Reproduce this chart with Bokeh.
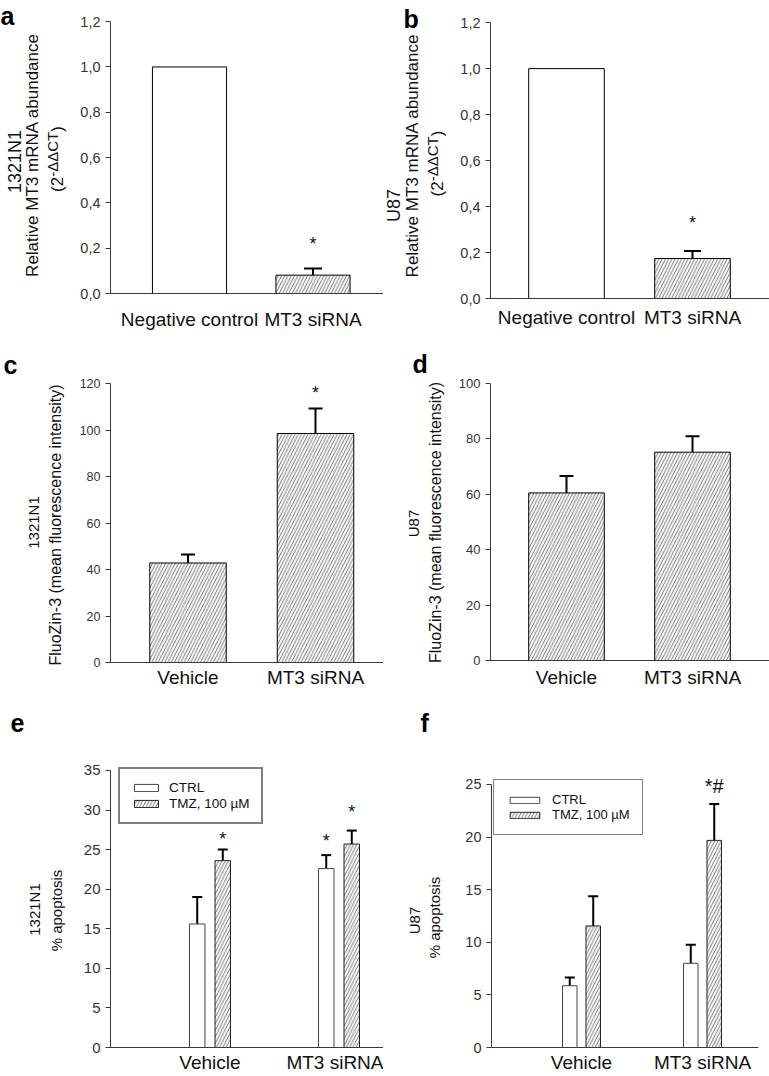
import math
from bokeh.plotting import figure
from bokeh.models import (ColumnDataSource, Range1d, FixedTicker, CustomJSTickFormatter,
                          Whisker, TeeHead, Label, Legend, LegendItem)
from bokeh.layouts import row, column
from bokeh.core.properties import value, field
from bokeh.embed import file_html
from bokeh.resources import INLINE

FONT = "Liberation Sans"

# ---------------- data ----------------
cats_mrna = ["Negative control", "MT3 siRNA"]
mrna_1321n1 = [1.0, 0.081]
mrna_1321n1_err = [0.0, 0.029]
mrna_1321n1_sig = ["", "*"]
mrna_u87 = [1.0, 0.174]
mrna_u87_err = [0.0, 0.033]
mrna_u87_sig = ["", "*"]

cats_treat = ["Vehicle", "MT3 siRNA"]
fluozin_1321n1 = [42.8, 98.5]
fluozin_1321n1_err = [3.7, 10.7]
fluozin_1321n1_sig = ["", "*"]
fluozin_u87 = [60.5, 75.2]
fluozin_u87_err = [6.1, 5.8]
fluozin_u87_sig = ["", ""]

series_apo = ["CTRL", "TMZ, 100 \u00b5M"]
apo_1321n1_ctrl = [15.6, 22.6]
apo_1321n1_ctrl_err = [3.4, 1.7]
apo_1321n1_ctrl_sig = ["", "*"]
apo_1321n1_tmz = [23.6, 25.7]
apo_1321n1_tmz_err = [1.4, 1.7]
apo_1321n1_tmz_sig = ["*", "*"]
apo_u87_ctrl = [5.87, 8.0]
apo_u87_ctrl_err = [0.78, 1.76]
apo_u87_ctrl_sig = ["", ""]
apo_u87_tmz = [11.55, 19.68]
apo_u87_tmz_err = [2.82, 3.45]
apo_u87_tmz_sig = ["", "*#"]

yticks_mrna = [0, 0.2, 0.4, 0.6, 0.8, 1.0, 1.2]
yticks_c = [0, 20, 40, 60, 80, 100, 120]
yticks_d = [0, 20, 40, 60, 80, 100]
yticks_e = [0, 5, 10, 15, 20, 25, 30, 35]
yticks_f = [0, 5, 10, 15, 20, 25]


# ---------------- layout helpers ----------------
def base_fig(W, H, **kw):
    p = figure(width=W, height=H, toolbar_location=None, output_backend="svg",
               title=None, tools="", frame_align=False, **kw)
    p.outline_line_color = None
    p.grid.grid_line_color = None
    p.background_fill_color = "white"
    p.border_fill_color = "white"
    return p


def make_fig(g, xr):
    return base_fig(g["W"], g["H"], x_range=Range1d(*xr), y_range=Range1d(0, g["yend"]),
                    min_border_left=g["FL"] - g["page_left"],
                    min_border_right=g["page_left"] + g["W"] - g["FR"],
                    min_border_top=g["FT"], min_border_bottom=g["H"] - g["FB"])


def label_fig(page_left, W, H):
    p = base_fig(W, H, x_range=Range1d(0, W), y_range=Range1d(0, H),
                 min_border_left=0, min_border_right=0, min_border_top=0,
                 min_border_bottom=0, x_axis_location=None, y_axis_location=None)
    p._page_left = page_left
    return p


def style_axes(p, cats, yticks, ysize, xstand, comma=False):
    xa = p.xaxis[0]
    xa.ticker = FixedTicker(ticks=list(range(len(cats))))
    xa.formatter = CustomJSTickFormatter(args=dict(cats=cats), code="return cats[index];")
    xa.major_tick_out = 0
    xa.major_tick_in = 0
    xa.minor_tick_line_color = None
    xa.major_tick_line_color = None
    xa.axis_line_color = "#3a3a3a"
    xa.major_label_text_font = FONT
    xa.major_label_text_font_size = "19px"
    xa.major_label_text_color = "#111111"
    xa.major_label_standoff = xstand
    ya = p.yaxis[0]
    ya.ticker = FixedTicker(ticks=yticks)
    ya.bounds = (yticks[0], yticks[-1])
    if comma:
        ya.formatter = CustomJSTickFormatter(code="return tick.toFixed(1).replace('.', ',');")
    ya.major_tick_out = 5
    ya.major_tick_in = 0
    ya.minor_tick_line_color = None
    ya.major_tick_line_color = "#3a3a3a"
    ya.axis_line_color = "#3a3a3a"
    ya.major_label_text_font = FONT
    ya.major_label_text_font_size = f"{ysize}px"
    ya.major_label_text_color = "#333333"
    ya.major_label_standoff = 5


def put(lf, RO, text, rx, ry, size, angle=0.0, align="center", baseline="middle",
        style="normal", color="#111111"):
    x = max(rx, lf._page_left) - lf._page_left
    y = lf.height - (ry - RO)
    lf.add_layout(Label(x=x, y=y, x_units="screen", y_units="screen", text=text, angle=angle,
                        text_align=align, text_baseline=baseline, text_font=FONT,
                        text_font_size=f"{size}px", text_font_style=style, text_color=color))


def put_ddct(lf, RO, rx, ry_center):
    w_open = 0.889 * 17
    w_sup = 3.0 * 15
    L = w_open + w_sup + 0.333 * 17
    yc = lf.height - (ry_center - RO)
    y0 = yc - L / 2
    x = rx - lf._page_left
    for txt, xx, yy, sz in [("(2", x, y0, 17), ("-\u0394\u0394CT", x - 5, y0 + w_open, 15),
                            (")", x, y0 + w_open + w_sup, 17)]:
        lf.add_layout(Label(x=xx, y=yy, x_units="screen", y_units="screen", text=txt,
                            angle=math.pi / 2, text_align="left", text_baseline="middle",
                            text_font=FONT, text_font_size=f"{sz}px", text_color="#111111"))


def add_whiskers(p, xs, vals, errs, cap):
    b, lo, up = [], [], []
    for x, v, e in zip(xs, vals, errs):
        if e > 0:
            b.append(x); lo.append(v); up.append(v + e)
    src = ColumnDataSource(dict(base=b, lower=lo, upper=up))
    w = Whisker(source=src, base="base", lower="lower", upper="upper", line_width=2,
                line_color="black",
                upper_head=TeeHead(size=cap, line_width=2, line_color="black"),
                lower_head=None)
    p.add_layout(w)


def add_stars(p, xs, vals, errs, sigs, offs, size):
    sx, sy, st, so = [], [], [], []
    for x, v, e, s, o in zip(xs, vals, errs, sigs, offs):
        if s:
            sx.append(x); sy.append(v + e); st.append(s); so.append(o)
    if not sx:
        return
    src = ColumnDataSource(dict(x=sx, y=sy, text=st, off=so))
    p.text(x="x", y="y", text="text", source=src, text_align="center", text_baseline="middle",
           y_offset=field("off"), text_font=value(FONT), text_font_size=f"{size}px",
           text_color="#111111")


HATCH = dict(hatch_scale=6.5, hatch_weight=0.7, hatch_color="#333333")


def simple_panel(g, cats, vals, errs, sigs, hatches, xr, yticks, ysize, xstand,
                 bar_w, cap, star_offs, comma=False):
    p = make_fig(g, xr)
    xs = list(range(len(cats)))
    src = ColumnDataSource(dict(x=xs, top=vals, hatch=hatches))
    p.vbar(x="x", top="top", width=bar_w, bottom=0, source=src, fill_color="white",
           line_color="black", line_width=1, hatch_pattern=field("hatch"), **HATCH)
    add_whiskers(p, xs, vals, errs, cap)
    add_stars(p, xs, vals, errs, sigs, star_offs, 18)
    style_axes(p, cats, yticks, ysize, xstand, comma)
    return p


def grouped_panel(g, cats, ctrl, ctrl_err, ctrl_sig, tmz, tmz_err, tmz_sig, xr, yticks,
                  ysize, xstand, bar_w, off, star_offs, star_size, leg):
    p = make_fig(g, xr)
    xc = [i - off for i in range(len(cats))]
    xt = [i + off for i in range(len(cats))]
    r_c = p.vbar(x="x", top="top", width=bar_w, bottom=0,
                 source=ColumnDataSource(dict(x=xc, top=ctrl)),
                 fill_color="white", line_color="#444444", line_width=1)
    r_t = p.vbar(x="x", top="top", width=bar_w, bottom=0,
                 source=ColumnDataSource(dict(x=xt, top=tmz)),
                 fill_color="white", line_color="#222222", line_width=1,
                 hatch_pattern="/", **HATCH)
    add_whiskers(p, xc + xt, ctrl + tmz, ctrl_err + tmz_err, 10)
    add_stars(p, xc + xt, ctrl + tmz, ctrl_err + tmz_err, ctrl_sig + tmz_sig, star_offs,
              star_size)
    lx = leg["x_ref"] - g["FL"]
    ly = g["FB"] - (leg["bottom_ref"] - g["RO"])
    legend = Legend(items=[LegendItem(label=series_apo[0], renderers=[r_c]),
                           LegendItem(label=series_apo[1], renderers=[r_t])],
                    location=(lx, ly), border_line_color="black",
                    border_line_width=leg["bw"], background_fill_color="white",
                    background_fill_alpha=1.0, padding=leg["pad"], margin=0,
                    spacing=leg["spacing"], glyph_width=leg["gw"], glyph_height=leg["gh"],
                    label_height=leg["lh"], label_standoff=leg["ls"],
                    label_text_font=FONT, label_text_font_size=f"{leg['fs']}px",
                    label_text_color="#111111")
    p.add_layout(legend)
    style_axes(p, cats, yticks, ysize, xstand)
    return p


def geom(page_left, W, H, RO, FL, FR, top_ref, bot_ref, ytop, ext_px):
    FT = top_ref - RO
    FB = bot_ref - RO
    FTf = FT - ext_px
    ppu = (FB - FT) / ytop
    yend = (FB - FTf) / ppu
    if yend < ytop * 1.0005:
        yend = ytop * 1.0005
    return dict(page_left=page_left, W=W, H=H, RO=RO, FL=FL, FR=FR, FT=FTf, FB=FB,
                yend=yend)


# column geometry: label strip | plot | label strip | plot  (page has no margin)
LP1, LW1, PL1, PW1 = 0, 72, 72, 311
LP2, LW2, PL2, PW2 = 383, 71, 454, 315
H1, H2, H3 = 335, 365, 375
R1, R2, R3 = 0, 335, 700

ga = geom(PL1, PW1, H1, R1, 110, 383, 21, 293, 1.2, 0)
gb = geom(PL2, PW2, H1, R1, 490, 769, 22, 298, 1.2, 0)
gc = geom(PL1, PW1, H2, R2, 110, 383, 383, 662, 120, 8)
gd = geom(PL2, PW2, H2, R2, 490, 769, 383, 660, 100, 8)
ge = geom(PL1, PW1, H3, R3, 110, 383, 770, 1049, 35, 12)
gf = geom(PL2, PW2, H3, R3, 491, 758, 784, 1049, 25, 16)

# ---------------- panels ----------------
la = label_fig(LP1, LW1, H1)
pa = simple_panel(ga, cats_mrna, mrna_1321n1, mrna_1321n1_err, mrna_1321n1_sig, [" ", "/"],
                  (-(189 - 110) / 123.5, 1 + (383 - 312.5) / 123.5), yticks_mrna, 14.5, 15,
                  0.6, 18, [-24.5, -24.5], comma=True)
put(la, R1, "a", 0, 15, 25, align="left", baseline="alphabetic", style="bold", color="black")
put(la, R1, "1321N1", 14, 161, 18, angle=math.pi / 2)
put(la, R1, "Relative MT3 mRNA abundance", 31.5, 154.5, 17, angle=math.pi / 2)
put_ddct(la, R1, 57, 158.5)

lb = label_fig(LP2, LW2, H1)
pb = simple_panel(gb, cats_mrna, mrna_u87, mrna_u87_err, mrna_u87_sig, [" ", "/"],
                  (-(566 - 490) / 126, 1 + (769 - 692) / 126), yticks_mrna, 14.5, 8, 0.6, 17,
                  [-27.5, -27.5], comma=True)
put(lb, R1, "b", 403, 18, 25, align="left", baseline="alphabetic", style="bold", color="black")
put(lb, R1, "U87", 393, 205, 18, angle=math.pi / 2)
put(lb, R1, "Relative MT3 mRNA abundance", 412, 155, 17, angle=math.pi / 2)
put_ddct(lb, R1, 437, 163)

lc = label_fig(LP1, LW1, H2)
pc = simple_panel(gc, cats_treat, fluozin_1321n1, fluozin_1321n1_err, fluozin_1321n1_sig,
                  ["/", "/"], (-(187.5 - 110) / 127.5, 1 + (383 - 315) / 127.5), yticks_c,
                  12.5, 4, 0.6, 14, [-15.5, -15.5])
put(lc, R2, "c", 3, 364, 25, align="left", baseline="alphabetic", style="bold", color="black")
put(lc, R2, "1321N1", 33, 522, 15, angle=math.pi / 2)
put(lc, R2, "FluoZin-3 (mean fluorescence intensity)", 55, 524.5, 16, angle=math.pi / 2)

ld = label_fig(LP2, LW2, H2)
pd_ = simple_panel(gd, cats_treat, fluozin_u87, fluozin_u87_err, fluozin_u87_sig,
                   ["/", "/"], (-(566 - 490) / 126, 1 + (769 - 692) / 126), yticks_d, 13, 6,
                   0.6, 14, [-15.5, -15.5])
put(ld, R2, "d", 412, 363, 25, align="left", baseline="alphabetic", style="bold", color="black")
put(ld, R2, "U87", 412.5, 523, 15, angle=math.pi / 2)
put(ld, R2, "FluoZin-3 (mean fluorescence intensity)", 435, 522, 16, angle=math.pi / 2)

le = label_fig(LP1, LW1, H3)
leg_e = dict(x_ref=118, bottom_ref=826, bw=2, pad=11, spacing=1, gw=30, gh=9, lh=15, ls=8, fs=13.5)
pe = grouped_panel(ge, cats_treat, apo_1321n1_ctrl, apo_1321n1_ctrl_err, apo_1321n1_ctrl_sig,
                   apo_1321n1_tmz, apo_1321n1_tmz_err, apo_1321n1_tmz_sig,
                   (-(209.5 - 110) / 129, 1 + (383 - 338.5) / 129), yticks_e, 15, 4, 0.12,
                   0.099, [0, -14.5, -10.5, -18.5], 18, leg_e)
put(le, R3, "e", 10, 722, 25, align="left", baseline="alphabetic", style="bold", color="black")
put(le, R3, "1321N1", 34, 909, 15, angle=math.pi / 2)
put(le, R3, "% apoptosis", 56, 910, 15, angle=math.pi / 2)

lf_ = label_fig(LP2, LW2, H3)
leg_f = dict(x_ref=493, bottom_ref=837, bw=1.5, pad=12, spacing=0, gw=37, gh=8, lh=15, ls=9, fs=13)
pf = grouped_panel(gf, cats_treat, apo_u87_ctrl, apo_u87_ctrl_err, apo_u87_ctrl_sig,
                   apo_u87_tmz, apo_u87_tmz_err, apo_u87_tmz_sig,
                   (-(581 - 491) / 121, 1 + (758 - 702) / 121), yticks_f, 14.5, 4, 0.12,
                   0.097, [0, 0, 0, -18.5], 20, leg_f)
put(lf_, R3, "f", 420, 722, 25, align="left", baseline="alphabetic", style="bold", color="black")
put(lf_, R3, "U87", 414, 920, 15, angle=math.pi / 2)
put(lf_, R3, "% apoptosis", 434, 917, 15, angle=math.pi / 2)

layout = column(row(la, pa, lb, pb), row(lc, pc, ld, pd_), row(le, pe, lf_, pf))

open("out.html", "w").write(file_html(layout, INLINE))
